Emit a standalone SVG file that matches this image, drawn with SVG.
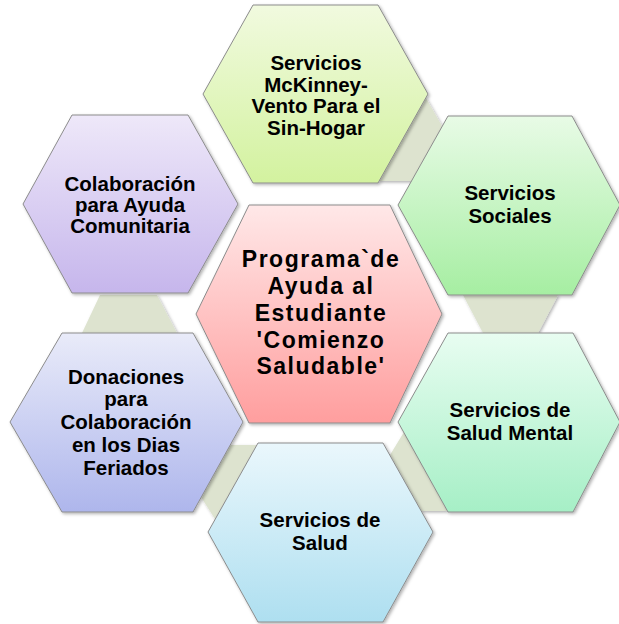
<svg xmlns="http://www.w3.org/2000/svg" width="619" height="624" viewBox="0 0 619 624">
<defs>
<linearGradient id="gTop" x1="0" y1="0" x2="0" y2="1"><stop offset="0" stop-color="#f1fadf"/><stop offset="1" stop-color="#d3f29f"/></linearGradient>
<linearGradient id="gSoc" x1="0" y1="0" x2="0" y2="1"><stop offset="0" stop-color="#e8fbe6"/><stop offset="1" stop-color="#a6eea2"/></linearGradient>
<linearGradient id="gMen" x1="0" y1="0" x2="0" y2="1"><stop offset="0" stop-color="#e8fdf1"/><stop offset="1" stop-color="#a6efc6"/></linearGradient>
<linearGradient id="gSal" x1="0" y1="0" x2="0" y2="1"><stop offset="0" stop-color="#eaf7fc"/><stop offset="1" stop-color="#aedff0"/></linearGradient>
<linearGradient id="gDon" x1="0" y1="0" x2="0" y2="1"><stop offset="0" stop-color="#e9ebf9"/><stop offset="1" stop-color="#aeb6ec"/></linearGradient>
<linearGradient id="gCol" x1="0" y1="0" x2="0" y2="1"><stop offset="0" stop-color="#eee8f9"/><stop offset="1" stop-color="#c6b6ec"/></linearGradient>
<linearGradient id="gCen" x1="0" y1="0" x2="0" y2="1"><stop offset="0" stop-color="#ffe8e8"/><stop offset="1" stop-color="#ff9e9e"/></linearGradient>
<filter id="sh" x="-10%" y="-10%" width="120%" height="120%"><feDropShadow dx="1.5" dy="1.5" stdDeviation="1.5" flood-color="#000" flood-opacity="0.3"/></filter>
</defs>
<style>
.hex{stroke:#8c8c8c;stroke-width:1;filter:url(#sh)}
.con{fill:#dde3cf;filter:url(#sh)}
text{font-family:"Liberation Sans",Arial,sans-serif;font-weight:bold;font-size:20.5px;fill:#000;text-anchor:middle}
.cen{font-size:23px;letter-spacing:1.5px}
</style>
<g id="connectors">
<polygon class="con" points="426,98 442,126 412,181 378,181"/>
<polygon class="con" points="463,295 558,295 538,333 483,333"/>
<polygon class="con" points="404,432 447,511 421,511 390,455"/>
<polygon class="con" points="230,445 257,445 215,519 201,497"/>
<polygon class="con" points="100,295 157,295 177,333 82,333"/>
</g>
<g id="node-mckinney">
<polygon class="hex" fill="url(#gTop)" points="253,5 378,5 428,94 378,183 253,183 203,94"/>
<text x="316" y="70">Servicios</text>
<text x="316" y="91.5">McKinney-</text>
<text x="316" y="113">Vento Para el</text>
<text x="316" y="134.5">Sin-Hogar</text>
</g>
<g id="node-colaboracion">
<polygon class="hex" fill="url(#gCol)" points="72,115 188,115 238,204 188,293 72,293 23,204"/>
<text x="130" y="190.5">Colaboración</text>
<text x="130" y="211.5">para Ayuda</text>
<text x="130" y="232.5">Comunitaria</text>
</g>
<g id="node-sociales">
<polygon class="hex" fill="url(#gSoc)" points="448,116 572,116 620,205 572,295 448,295 398,205"/>
<text x="510" y="199.5">Servicios</text>
<text x="510" y="223">Sociales</text>
</g>
<g id="node-mental">
<polygon class="hex" fill="url(#gMen)" points="448,333 573,333 620,422 573,512 448,512 398,422"/>
<text x="510" y="416.5">Servicios de</text>
<text x="510" y="439.5">Salud Mental</text>
</g>
<g id="node-salud">
<polygon class="hex" fill="url(#gSal)" points="258,443 383,443 433,532 383,622 258,622 208,532"/>
<text x="320" y="527">Servicios de</text>
<text x="320" y="550">Salud</text>
</g>
<g id="node-donaciones">
<polygon class="hex" fill="url(#gDon)" points="62,333 193,333 243,422 193,512 62,512 10,422"/>
<text x="126" y="383.5">Donaciones</text>
<text x="126" y="406">para</text>
<text x="126" y="429">Colaboración</text>
<text x="126" y="452">en los Dias</text>
<text x="126" y="475">Feriados</text>
</g>
<g id="node-center">
<polygon class="hex" fill="url(#gCen)" points="249,205 390,205 442,314 390,423 249,423 196,314"/>
<text class="cen" x="321" y="267">Programa`de</text>
<text class="cen" x="321" y="294">Ayuda al</text>
<text class="cen" x="321" y="321">Estudiante</text>
<text class="cen" x="321" y="348">'Comienzo</text>
<text class="cen" x="321" y="374">Saludable'</text>
</g>
</svg>
